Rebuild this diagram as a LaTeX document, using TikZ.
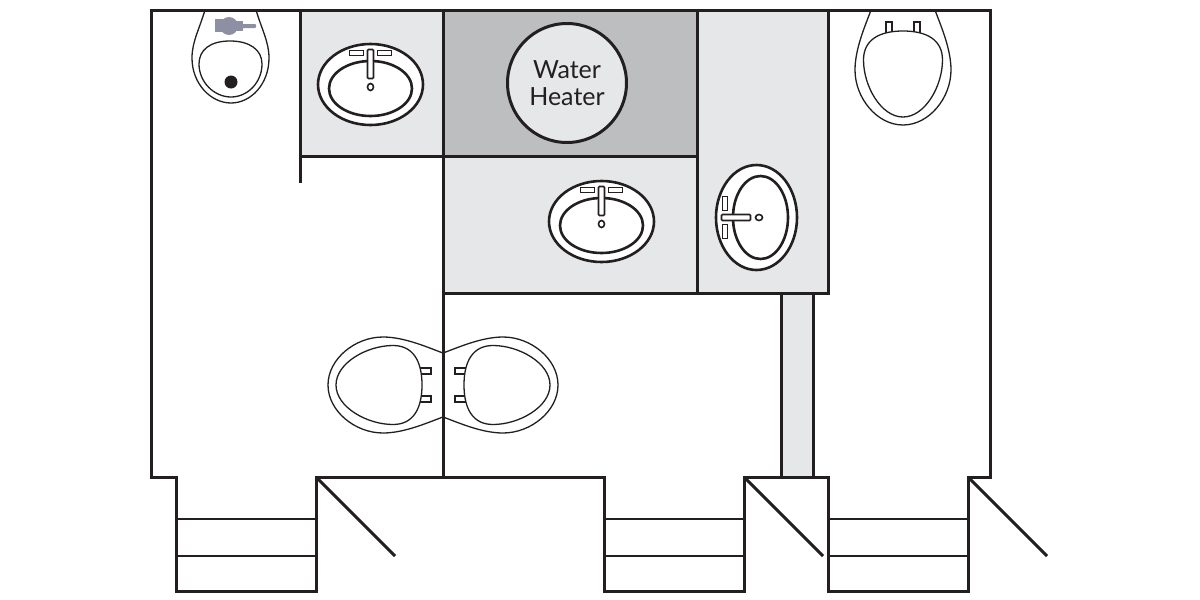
\documentclass[tikz,border=0pt]{standalone}
\usepackage{fontspec}
\setmainfont{Lato}
\begin{document}
\begin{tikzpicture}[x=1pt, y=-1pt, line join=miter,
    wall/.style={draw=lineBlack, line width=3pt},
    thinline/.style={draw=lineBlack, line width=1.3pt},
    sinkline/.style={draw=lineBlack, line width=2.6pt},
    pics/sink/.style={code={
        \draw[sinkline, fill=white] (0,0) ellipse [x radius=52.5pt, y radius=40.5pt];
        \draw[sinkline, fill=white] (0,4) ellipse [x radius=41.5pt, y radius=27.5pt];
        \draw[thinline, line width=1.6pt, fill=white] (-21,-34) rectangle (-7,-29);
        \draw[thinline, line width=1.6pt, fill=white] (7,-34) rectangle (21,-29);
        \draw[thinline, line width=1.6pt, fill=white, rounded corners=1pt] (-3,-35) rectangle (3,-6);
        \draw[thinline, line width=1.6pt, fill=white] (0,2.5) ellipse [x radius=3pt, y radius=3.5pt];
    }},
    pics/toilet/.style={code={
        \draw[thinline] (-32,0) .. controls (-37,14) and (-48,38) .. (-48,60)
            .. controls (-48,88) and (-26,115) .. (0,115)
            .. controls (26,115) and (48,88) .. (48,60)
            .. controls (48,38) and (37,14) .. (32,0);
        \draw[thinline, fill=white] (-17,12) rectangle (-11,24);
        \draw[thinline, fill=white] (11,12) rectangle (17,24);
        \draw[thinline, fill=white] (0,21) .. controls (24,21) and (39.5,30) .. (39.5,50)
            .. controls (39.5,76) and (22,107) .. (0,107)
            .. controls (-22,107) and (-39.5,76) .. (-39.5,50)
            .. controls (-39.5,30) and (-24,21) .. (0,21) -- cycle;
    }}]
    % --- CONFIGURATION ---
    \definecolor{lineBlack}{RGB}{35, 31, 32}
    \definecolor{roomLight}{RGB}{230, 231, 232}
    \definecolor{roomDark}{RGB}{188, 190, 192}
    \definecolor{flushGrey}{RGB}{141, 143, 163}

    \useasboundingbox (0,0) rectangle (1200,600);

    % Service rooms
    \fill[roomLight] (300,10) rectangle (443,156);
    \fill[roomDark] (443,10) rectangle (697,156);
    \fill[roomLight] (443,156) rectangle (697,293);
    \fill[roomLight] (697,10) rectangle (828,293);
    \fill[roomLight] (781,293) rectangle (813,477);

    % --- WALLS ---
    \draw[wall] (151,10) -- (990,10) -- (990,477) -- (968,477) -- (968,591) -- (828,591) -- (828,477) -- (744,477)
        -- (744,591) -- (604.5,591) -- (604.5,477) -- (316,477) -- (316,591) -- (176.5,591) -- (176.5,477) -- (151,477) -- cycle;
    \draw[wall] (300,10) -- (300,183);
    \draw[wall] (300,156) -- (697,156);
    \draw[wall] (443,10) -- (443,477);
    \draw[wall] (697,10) -- (697,293);
    \draw[wall] (443,293) -- (828,293) -- (828,10);
    \draw[wall] (781,293) -- (781,477);
    \draw[wall] (813,293) -- (813,477);

    % Steps and doors
    \foreach \xa/\xb in {176.5/316, 604.5/744, 828/968} {
        \draw[thinline, line width=2pt] (\xa,519) -- (\xb,519);
        \draw[thinline, line width=2pt] (\xa,556) -- (\xb,556);
    }
    \foreach \xa in {316, 744, 968} {
        \draw[wall] (\xa,477) -- (\xa+79,556);
    }

    % --- FIXTURES ---
    \pic (sinkA) at (370.5,84.5) {sink};
    \pic (sinkB) at (601.5,221.5) {sink};
    \pic[rotate=90] (sinkC) at (756.5,217.5) {sink};

    \pic (toiletA) at (903,10) {toilet};
    \pic[rotate=-90] (toiletB) at (443,385) {toilet};
    \pic[rotate=90] (toiletC) at (443,385) {toilet};

    % Urinal
    \draw[thinline] (205,10) .. controls (199,30) and (192,42) .. (192,58)
        .. controls (192,84) and (211,103) .. (231,103)
        .. controls (251,103) and (269,84) .. (269,58)
        .. controls (269,42) and (262,30) .. (256,10);
    \draw[thinline] (230,41) .. controls (250,41) and (262,50) .. (262,64)
        .. controls (262,82) and (248,97) .. (231,97)
        .. controls (214,97) and (199,82) .. (199,64)
        .. controls (199,50) and (210,41) .. (230,41) -- cycle;
    \fill[lineBlack] (231,82) circle (6.5pt);
    \fill[flushGrey] (215,19) rectangle (224,32);
    \fill[flushGrey] (229,26) circle (9pt);
    \fill[flushGrey] (236,21) rectangle (243,31);
    \fill[flushGrey, rounded corners=1pt] (242,24) rectangle (256,28);

    % Water heater
    \node[circle, draw=lineBlack, fill=roomLight, line width=3pt, minimum size=119pt, inner sep=0pt,
        align=center, text=lineBlack, font=\fontsize{25}{27}\selectfont] (heater) at (567,83) {Water\\Heater};
\end{tikzpicture}
\end{document}
